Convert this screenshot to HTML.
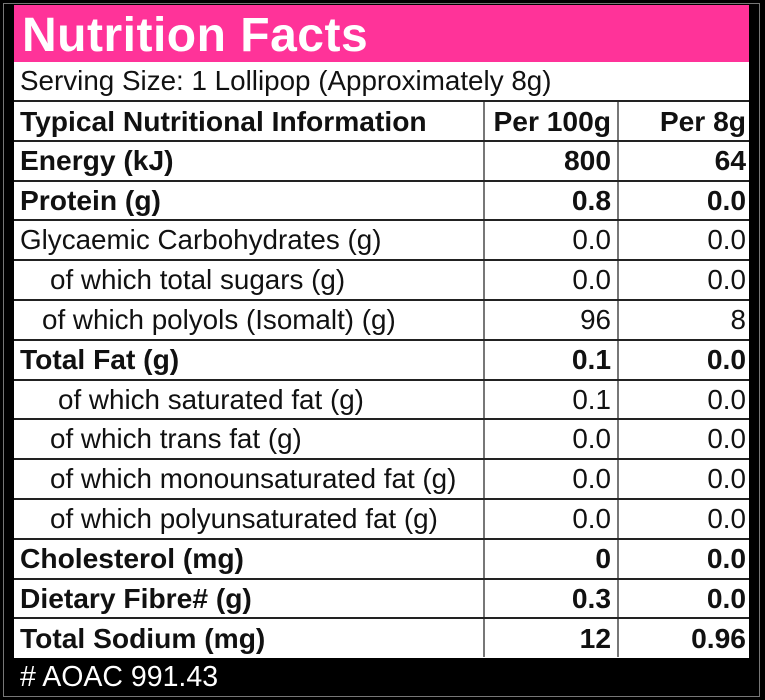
<!DOCTYPE html>
<html><head><meta charset="utf-8"><style>
body{margin:0;width:765px;height:700px;background:#000;position:relative;overflow:hidden;font-family:"Liberation Sans",Arial,sans-serif}
.frame{position:absolute;left:3px;top:3px;width:757px;height:694px;border:1px solid #777;box-sizing:border-box}
.title{position:absolute;left:14px;top:5px;width:735px;height:57px;background:#ff3399;color:#fff;font-weight:bold;font-size:48px;line-height:62px;padding-left:8px;box-sizing:border-box;letter-spacing:0.5px}
.tbl{position:absolute;left:14px;top:62px;width:735px;height:596px;background:#fff}
.row{position:absolute;left:0;width:735px;border-top:2px solid #222;box-sizing:border-box}
.c{position:absolute;top:0;height:100%;display:flex;align-items:center;font-size:27.8px;color:#111;box-sizing:border-box;white-space:nowrap}
.c1{left:6px;width:460px}
.c2{left:469px;width:134px;justify-content:flex-end;border-left:2px solid #777;padding-right:6px}
.c3{left:603px;width:132px;justify-content:flex-end;border-left:2px solid #777;padding-right:3px}
.b .c{font-weight:bold;font-size:28.2px}
.foot{position:absolute;left:20px;top:661px;color:#fff;font-size:28.5px}
</style></head><body>
<div class="frame"></div>
<div class="title">Nutrition Facts</div>
<div class="tbl">
<div class="row" style="top:0;height:38px;border-top:none"><div class="c c1" style="width:720px">Serving Size: 1 Lollipop (Approximately 8g)</div></div>
<div id="rows"></div>
</div>
<div class="foot"># AOAC 991.43</div>
<script>
const labels=["Typical Nutritional Information","Energy (kJ)","Protein (g)","Glycaemic Carbohydrates (g)","of which total sugars (g)","of which polyols (Isomalt) (g)","Total Fat (g)","of which saturated fat (g)","of which trans fat (g)","of which monounsaturated fat (g)","of which polyunsaturated fat (g)","Cholesterol (mg)","Dietary Fibre# (g)","Total Sodium (mg)"];
const per100=["Per 100g","800","0.8","0.0","0.0","96","0.1","0.1","0.0","0.0","0.0","0","0.3","12"];
const per8=["Per 8g","64","0.0","0.0","0.0","8","0.0","0.0","0.0","0.0","0.0","0.0","0.0","0.96"];
const bold=[1,1,1,0,0,0,1,0,0,0,0,1,1,1];
const indent=[0,0,0,0,30,22,0,38,30,30,30,0,0,0];
const host=document.getElementById('rows');
labels.forEach((l,i)=>{
 const r=document.createElement('div');
 r.className='row'+(bold[i]?' b':'');
 
 
 r.style.top=(38+i*39.8)+'px';r.style.height='40px';
 r.innerHTML='<div class="c c1" style="padding-left:'+indent[i]+'px">'+l+'</div><div class="c c2">'+per100[i]+'</div><div class="c c3">'+per8[i]+'</div>';
 host.appendChild(r);
});
</script>
</body></html>
